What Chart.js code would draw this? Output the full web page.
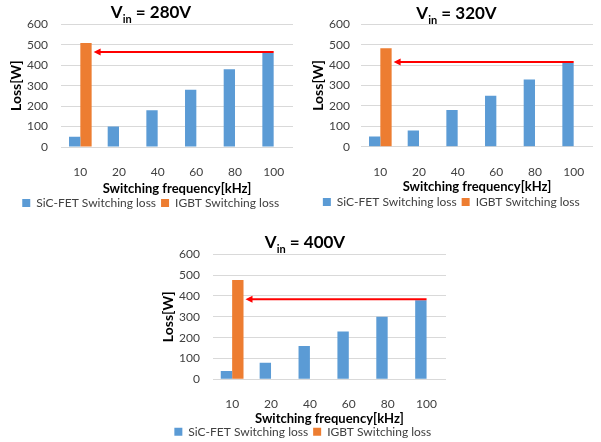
<!DOCTYPE html>
<html><head><meta charset="utf-8">
<script src="https://cdn.jsdelivr.net/npm/chart.js@4"></script>
<style>
html,body{margin:0;padding:0;width:601px;height:442px;overflow:hidden;background:#fff;}
.w{position:absolute;}
canvas{display:block;}
</style></head><body>
<div class="w" style="left:0px;top:0px;"><canvas id="c1" width="300" height="220"></canvas></div>
<div class="w" style="left:300px;top:0px;"><canvas id="c2" width="301" height="219"></canvas></div>
<div class="w" style="left:152px;top:230px;"><canvas id="c3" width="301" height="218"></canvas></div>
<script>
// ---- data ----
const categories = ['10', '20', '40', '60', '80', '100'];
const seriesNames = ['SiC-FET Switching loss', 'IGBT Switching loss'];
const vinLabels = ['280V', '320V', '400V'];
const sic280 = [50, 100, 180, 280, 380, 460];
const igbt280 = [508, null, null, null, null, null];
const sic320 = [50, 80, 180, 250, 330, 410];
const igbt320 = [483, null, null, null, null, null];
const sic400 = [40, 80, 160, 230, 300, 380];
const igbt400 = [477, null, null, null, null, null];
const yTicks = [0, 100, 200, 300, 400, 500, 600];
const xTitle = 'Switching frequency[kHz]';
const yTitle = 'Loss[W]';

const FONT = 'Lato';
const BLUE = '#5B9BD5', ORANGE = '#ED7D31';
const TEXT = '#404040';

const vinTitle = {
  id: 'vinTitle',
  afterDraw(chart, args, opts) {
    const ctx = chart.ctx;
    ctx.save();
    ctx.fillStyle = '#000';
    ctx.textBaseline = 'alphabetic';
    ctx.textAlign = 'left';
    const big = 'bold 17px ' + FONT, small = 'bold 11px ' + FONT;
    const rest = ' = ' + opts.text;
    ctx.font = big;
    const wV = ctx.measureText('V').width;
    const wR = ctx.measureText(rest).width;
    ctx.font = small;
    const wS = ctx.measureText('in').width;
    let x = opts.cx - (wV + wS + wR) / 2;
    ctx.font = big; ctx.fillText('V', x, opts.y); x += wV;
    ctx.font = small; ctx.fillText('in', x, opts.y + 4.5); x += wS;
    ctx.font = big; ctx.fillText(rest, x, opts.y);
    ctx.restore();
  }
};

const lossArrow = {
  id: 'lossArrow',
  afterDatasetsDraw(chart) {
    const from = chart.getDatasetMeta(0).data[categories.length - 1];
    const to = chart.getDatasetMeta(1).data[0];
    if (!from || !to) return;
    const ctx = chart.ctx;
    const x1 = from.x + from.width / 2;
    const x0 = to.x + to.width / 2 + 2;
    const y = from.y - 1;
    ctx.save();
    ctx.strokeStyle = '#FF0000';
    ctx.fillStyle = '#FF0000';
    ctx.lineWidth = 2;
    ctx.beginPath();
    ctx.moveTo(x1, y);
    ctx.lineTo(x0 + 5, y);
    ctx.stroke();
    ctx.beginPath();
    ctx.moveTo(x0, y);
    ctx.lineTo(x0 + 7, y - 3.5);
    ctx.lineTo(x0 + 7, y + 3.5);
    ctx.closePath();
    ctx.fill();
    ctx.restore();
  }
};

function makeChart(id, sic, igbt, vin, L) {
  return new Chart(document.getElementById(id), {
    type: 'bar',
    data: {
      labels: categories,
      datasets: [
        { label: seriesNames[0], data: sic, backgroundColor: BLUE, borderWidth: 0 },
        { label: seriesNames[1], data: igbt, backgroundColor: ORANGE, borderWidth: 0 }
      ]
    },
    options: {
      responsive: false,
      animation: false,
      datasets: { bar: { categoryPercentage: 0.585, barPercentage: 1 } },
      layout: { padding: { left: L.pl, right: L.pr, top: L.pt, bottom: L.pb } },
      scales: {
        x: {
          grid: { display: false, drawTicks: true, tickLength: L.xtl },
          border: { display: false },
          ticks: { padding: 3, color: TEXT, font: { family: FONT, size: 12 } },
          title: { display: true, text: xTitle, color: '#000',
                   font: { family: FONT, size: 13, weight: 'bold' },
                   padding: { top: 0, bottom: L.tpb } },
          afterFit(s) { s.height = L.xh; }
        },
        y: {
          min: 0, max: 600,
          afterBuildTicks(s) { s.ticks = yTicks.map(v => ({ value: v })); },
          grid: { color: '#d9d9d9', drawTicks: true, tickLength: L.ytl, tickColor: 'rgba(0,0,0,0)' },
          border: { display: false },
          ticks: { padding: 3, color: TEXT, font: { family: FONT, size: 12 } },
          title: { display: true, text: yTitle, color: '#000',
                   font: { family: FONT, size: 14, weight: 'bold' }, padding: 0 },
          afterFit(s) { s.width = L.yw; }
        }
      },
      plugins: {
        legend: {
          position: 'bottom',
          labels: { boxWidth: 8, boxHeight: 8, padding: 5, color: TEXT,
                    font: { family: FONT, size: 12 } }
        },
        tooltip: { enabled: false },
        vinTitle: { text: vin, cx: L.tcx, y: L.ty }
      }
    },
    plugins: [vinTitle, lossArrow]
  });
}

makeChart('c1', sic280, igbt280, vinLabels[0],
  { pl: 8.4, pr: 7, pt: 24.3, pb: 1, yw: 52.6, ytl: 10, xh: 45, xtl: 15, tpb: -4.8, tcx: 151, ty: 18.3 });
makeChart('c2', sic320, igbt320, vinLabels[1],
  { pl: 9.6, pr: 8, pt: 24.3, pb: 1, yw: 51.4, ytl: 8, xh: 44.3, xtl: 15.1, tpb: -3.8, tcx: 156.5, ty: 19 });
makeChart('c3', sic400, igbt400, vinLabels[2],
  { pl: 7.6, pr: 7, pt: 24.3, pb: 0.3, yw: 53.1, ytl: 9.7, xh: 41.4, xtl: 14.5, tpb: -5.8, tcx: 153, ty: 18.3 });
</script>
</body></html>
